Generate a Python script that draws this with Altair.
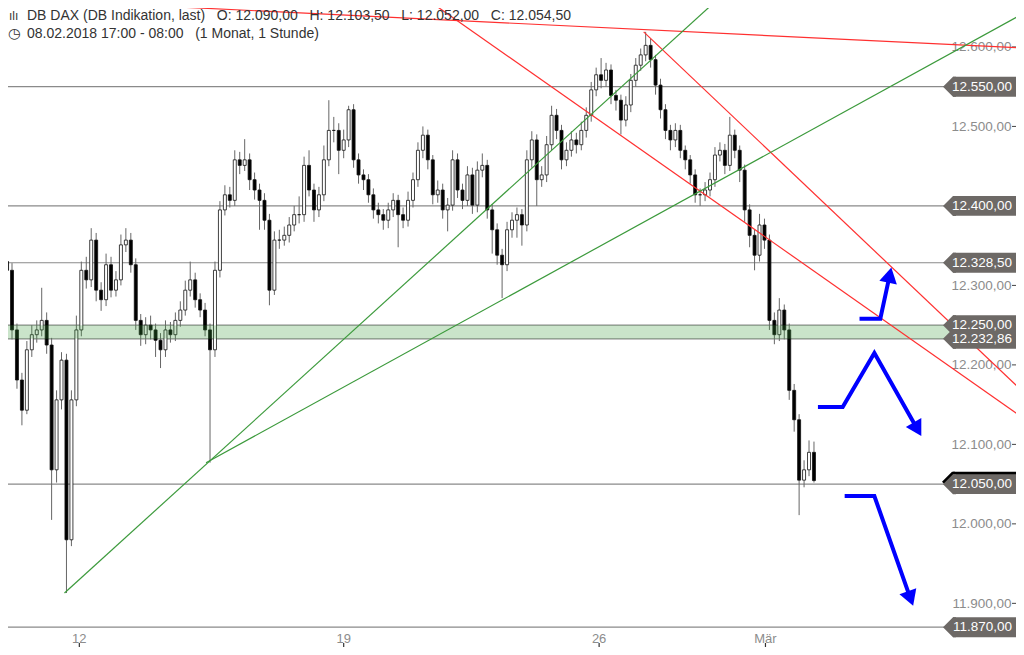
import altair as alt
import pandas as pd

# ---------------- data ----------------
first_open = 12330
close = [12319,12244,12181,12143,12219,12238,12244,12256,12225,12068,
         12156,12206,11980,12156,12244,12319,12307,12357,12294,12282,
         12326,12294,12307,12351,12357,12326,12256,12238,12250,12244,
         12231,12219,12244,12238,12256,12269,12294,12307,12282,12269,
         12244,12219,12319,12395,12414,12407,12458,12451,12458,12433,
         12420,12407,12382,12294,12357,12357,12363,12376,12389,12389,
         12451,12420,12395,12414,12458,12495,12495,12470,12483,12521,
         12458,12439,12433,12414,12395,12389,12382,12395,12407,12389,
         12382,12407,12433,12470,12489,12458,12414,12420,12395,12401,
         12458,12420,12407,12439,12401,12445,12451,12395,12370,12338,
         12326,12370,12382,12389,12376,12458,12483,12433,12439,12477,
         12514,12495,12458,12470,12483,12477,12495,12514,12546,12565,
         12558,12571,12539,12533,12508,12527,12558,12577,12590,12602,
         12584,12552,12521,12495,12483,12495,12470,12458,12439,12414,
         12414,12420,12433,12464,12470,12451,12489,12470,12445,12395,
         12363,12338,12376,12357,12256,12238,12269,12244,12168,12131,
         12055,12068,12090,12054.5]
high = [12342,12328,12252,12190,12230,12250,12256,12297,12266,12234,
        12168,12216,12214,12168,12262,12330,12336,12372,12366,12304,
        12340,12336,12318,12364,12372,12366,12334,12264,12260,12262,
        12252,12240,12256,12254,12266,12280,12306,12330,12316,12290,
        12278,12252,12330,12406,12426,12424,12470,12468,12484,12466,
        12442,12428,12416,12390,12368,12370,12374,12386,12400,12412,
        12462,12470,12428,12424,12476,12533,12512,12504,12496,12526,
        12528,12466,12446,12440,12422,12404,12396,12404,12416,12414,
        12398,12418,12442,12480,12500,12496,12464,12432,12428,12410,
        12470,12466,12428,12450,12448,12456,12466,12458,12402,12378,
        12346,12380,12392,12398,12396,12470,12494,12490,12450,12488,
        12526,12522,12502,12480,12494,12492,12506,12524,12556,12574,
        12586,12580,12578,12546,12540,12538,12566,12586,12598,12619,
        12610,12590,12560,12528,12502,12504,12502,12476,12464,12446,
        12422,12430,12442,12474,12480,12478,12512,12496,12476,12452,
        12402,12370,12390,12384,12364,12266,12284,12276,12252,12176,
        12138,12080,12105,12103.5]
low = [12305,12232,12170,12124,12138,12210,12228,12236,12214,12005,
       12052,12144,11913,11972,12148,12236,12296,12298,12280,12268,
       12274,12285,12286,12300,12342,12316,12244,12224,12226,12232,
       12210,12196,12210,12228,12230,12248,12262,12286,12272,12260,
       12236,12077,12210,12310,12388,12398,12400,12440,12444,12420,
       12408,12370,12370,12275,12288,12346,12350,12354,12368,12378,
       12380,12412,12380,12386,12406,12450,12480,12440,12460,12474,
       12448,12428,12420,12404,12384,12378,12370,12372,12386,12348,
       12372,12374,12398,12424,12460,12446,12402,12404,12384,12368,
       12394,12410,12396,12400,12390,12392,12436,12384,12340,12326,
       12284,12318,12360,12360,12350,12368,12448,12400,12424,12430,
       12470,12484,12446,12450,12462,12466,12470,12486,12506,12538,
       12548,12550,12528,12520,12490,12500,12518,12550,12570,12582,
       12574,12540,12510,12484,12470,12474,12460,12446,12428,12404,
       12400,12406,12412,12424,12456,12440,12444,12460,12430,12380,
       12348,12319,12330,12346,12244,12226,12230,12232,12156,12116,
       12011,12046,12060,12052]

# x-axis day ticks (position in hourly bar index)
tick_pos = [14.6, 68.0, 119.6, 153.2]
tick_lab = ["12", "19", "26", "Mär"]

# right-side price axis values
axis_vals = [11900, 12000, 12100, 12200, 12300, 12500, 12600]

# horizontal levels and their labels
levels = [12550, 12400, 12328.5, 12250, 12232.86, 12050, 11870]
level_labels = ["12.550,00", "12.400,00", "12.328,50", "12.250,00",
                "12.232,86", "12.050,00", "11.870,00"]
current_price = 12050
zone_low, zone_high = 12232.86, 12250

# trend lines (bar index, price)
red_x1 = [5.6, 128.6, 85.0]
red_p1 = [12659, 12619, 12659]
red_x2 = [204.4, 204.4, 204.4]
red_p2 = [12599, 12171, 12137]
green_x1 = [11.6, 40.2]
green_p1 = [11913, 12077]
green_x2 = [143.4, 204.4]
green_p2 = [12659, 12639]

# blue scenario arrows
arrow_id = ["a", "a", "a", "b", "b", "b", "b", "c", "c", "c"]
arrow_seq = [0, 1, 2, 0, 1, 2, 3, 0, 1, 2]
arrow_x = [172.2, 176.4, 178.3, 163.8, 168.8, 175.2, 183.9, 169.2, 175.2, 182.5]
arrow_p = [12258, 12258, 12313, 12147, 12147, 12215, 12119, 12035, 12035, 11906]
head_x = [178.3, 183.9, 182.5]
head_p = [12313, 12119, 11906]
head_angle = [12, 150, 160]

SP = "\u00a0\u00a0\u00a0"
header1 = ("DB DAX (DB Indikation, last)" + SP + "O: 12.090,00" + SP + "H: 12.103,50"
           + SP + "L: 12.052,00" + SP + "C: 12.054,50")
header2 = "08.02.2018 17:00 - 08:00" + SP + "(1 Monat, 1 Stunde)"

# ---------------- tables ----------------
n = len(close)
candles = pd.DataFrame({
    "t": list(range(n)),
    "open": [first_open] + close[:-1],
    "high": high, "low": low, "close": close,
})
lv = pd.DataFrame({"p": levels, "lab": level_labels})
cur = pd.DataFrame({"p": [current_price]})
zone = pd.DataFrame({"lo": [zone_low], "hi": [zone_high]})
red = pd.DataFrame({"x1": red_x1, "p1": red_p1, "x2": red_x2, "p2": red_p2})
green = pd.DataFrame({"x1": green_x1, "p1": green_p1, "x2": green_x2, "p2": green_p2})
arrows = pd.DataFrame({"id": arrow_id, "seq": arrow_seq, "x": arrow_x, "p": arrow_p})
heads = pd.DataFrame({"x": head_x, "p": head_p, "ang": head_angle})
ticks = pd.DataFrame({"pos": tick_pos, "lab": tick_lab})
yticks = pd.DataFrame({"v": axis_vals})
one = pd.DataFrame({"a": [0]})

FONT = "Liberation Sans, DejaVu Sans, Arial"
W, H = 1008, 620
xscale = alt.Scale(domain=[1.2, 202.8], nice=False, zero=False)
yscale = alt.Scale(domain=[11869, 12649], nice=False, zero=False)
yaxis = alt.Axis(orient="right", values=axis_vals, grid=False, domain=False,
                 ticks=False, labelPadding=-5,
                 labelAlign="right", labelColor="#8c8c8c", labelFontSize=13.5,
                 labelFont=FONT, title=None,
                 labelExpr="replace(replace(replace(format(datum.value, ',.2f'), ',', '_'), '.', ','), '_', '.')")


def X(f):
    return alt.X(f, type="quantitative", scale=xscale, axis=None)


def Y(f):
    return alt.Y(f, type="quantitative", scale=yscale, axis=yaxis)


hlines = alt.Chart(lv).mark_rule(color="#8a8a8a", strokeWidth=1.2).encode(
    y=Y("p"), x=alt.value(0), x2=alt.value(945))

ytick_marks = alt.Chart(yticks).mark_rule(color="#444444", strokeWidth=1).encode(
    y=Y("v"), x=alt.value(1004), x2=alt.value(1008))

wicks = alt.Chart(candles).mark_rule(color="#666666", strokeWidth=1, clip=True).encode(
    x=X("t"), y=Y("low"), y2=alt.Y2("high"))

bodies = alt.Chart(candles).mark_bar(size=3, stroke="#111111", strokeWidth=0.8, clip=True).encode(
    x=X("t"), y=Y("open"), y2=alt.Y2("close"),
    fill=alt.condition("datum.close >= datum.open", alt.value("white"), alt.value("black")))

band = alt.Chart(zone).mark_rect(color="#3a9a3a", opacity=0.27).encode(
    y=Y("lo"), y2=alt.Y2("hi"), x=alt.value(0), x2=alt.value(945))

red_lines = alt.Chart(red).mark_rule(color="#ff3030", strokeWidth=1.2, clip=True).encode(
    x=X("x1"), x2=alt.X2("x2"), y=Y("p1"), y2=alt.Y2("p2"))

green_lines = alt.Chart(green).mark_rule(color="#3c9a3c", strokeWidth=1.2, clip=True).encode(
    x=X("x1"), x2=alt.X2("x2"), y=Y("p1"), y2=alt.Y2("p2"))

arrow_lines = alt.Chart(arrows).mark_line(color="#0000ff", strokeWidth=4, strokeJoin="miter").encode(
    x=X("x"), y=Y("p"), detail="id:N", order="seq:Q")

arrow_heads = alt.Chart(heads).mark_point(shape="triangle-up", filled=True, color="#0000ff",
                                         size=320, opacity=1).encode(
    x=X("x"), y=Y("p"), angle=alt.Angle("ang:Q", scale=None))

TIP = "M-1,0L0,-1L0.3,-1L0.3,1L0,1Z"
cur_rect = alt.Chart(cur).mark_rect(color="#000000").transform_calculate(
    top="datum.p + 15.5", bot="datum.p - 9.5").encode(
    x=alt.value(945), x2=alt.value(1008), y=Y("top"), y2=alt.Y2("bot"))
cur_tip = alt.Chart(cur).mark_point(shape=TIP, filled=True, size=400, color="#000000",
                                   strokeWidth=0, opacity=1).transform_calculate(
    q="datum.p + 3").encode(x=alt.value(944), y=Y("q"))

box_rect = alt.Chart(lv).mark_rect(color="#6d6966").transform_calculate(
    top="datum.p + 12.5", bot="datum.p - 12.5").encode(
    x=alt.value(945), x2=alt.value(1008), y=Y("top"), y2=alt.Y2("bot"))
box_tip = alt.Chart(lv).mark_point(shape=TIP, filled=True, size=400, color="#6d6966",
                                  strokeWidth=0, opacity=1).encode(
    x=alt.value(945), y=Y("p"))
box_text = alt.Chart(lv).mark_text(align="right", color="white", fontSize=13.5, font=FONT).encode(
    x=alt.value(1004), y=Y("p"), text="lab:N")

tick_text = alt.Chart(ticks).mark_text(color="#8c8c8c", fontSize=13, font=FONT).encode(
    x=X("pos"), y=alt.value(631), text="lab:N")
tick_marks = alt.Chart(ticks).mark_rule(color="#333333", strokeWidth=1.2).encode(
    x=X("pos"), y=alt.value(635), y2=alt.value(639))

h1 = alt.Chart(one).mark_text(align="left", fontSize=14, color="#333333", font=FONT).encode(
    x=alt.value(19), y=alt.value(8), text=alt.value(header1))
h2 = alt.Chart(one).mark_text(align="left", fontSize=14, color="#333333", font=FONT).encode(
    x=alt.value(19), y=alt.value(26), text=alt.value(header2))
icon1 = alt.Chart(one).mark_text(align="left", fontSize=12, color="#333333", font=FONT).encode(
    x=alt.value(1), y=alt.value(8), text=alt.value("ılı"))
icon2 = alt.Chart(one).mark_text(align="left", fontSize=14, color="#333333", font="DejaVu Sans").encode(
    x=alt.value(0), y=alt.value(26), text=alt.value("◷"))

chart = alt.layer(
    hlines, ytick_marks, wicks, bodies, band, red_lines, green_lines, arrow_lines, arrow_heads,
    cur_rect, cur_tip, box_rect, box_tip, box_text, tick_text, tick_marks,
    h1, h2, icon1, icon2,
).properties(
    width=W, height=H,
    autosize=alt.AutoSizeParams(type="none"),
    padding={"left": 0, "top": 0, "right": 0, "bottom": 19},
    background="white",
).configure_view(stroke=None)

chart.save("out.html", embed_options={"renderer": "svg", "actions": False})
